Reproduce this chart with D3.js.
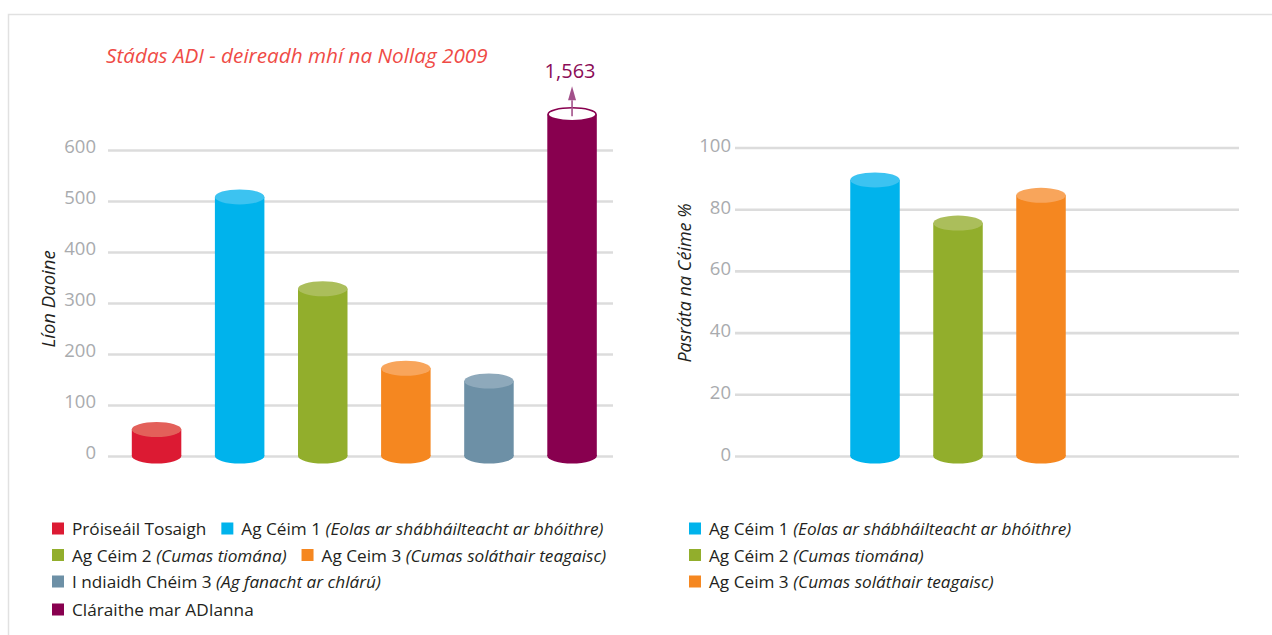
<!DOCTYPE html>
<html>
<head>
<meta charset="utf-8">
<script src="https://cdn.jsdelivr.net/npm/d3@7"></script>
<style>
  html, body { margin: 0; padding: 0; background: #fff; }
  svg { display: block; }
</style>
</head>
<body>
<svg id="chart" width="1272" height="635"></svg>
<script>
// ---------------- DATA ----------------
const titleText = "Stádas ADI - deireadh mhí na Nollag 2009";

const leftCategories = [
  "Próiseáil Tosaigh",
  "Ag Céim 1",
  "Ag Céim 2",
  "Ag Ceim 3",
  "I ndiaidh Chéim 3",
  "Cláraithe mar ADIanna"
];
const leftValues = [52, 508, 328, 172, 147, 1563];
const leftTicks = [0, 100, 200, 300, 400, 500, 600];
const leftAxisTitle = "Líon Daoine";
const leftDisplayCap = 670;  // bars above this are drawn broken
const leftColors = ["#dc1a33", "#00b3ec", "#92ae2c", "#f58720", "#6d90a6", "#88004f"];
const leftTopColors = ["#e3605a", "#3cc3f1", "#abbe5b", "#f8a55b", "#8ea9bb", "#ffffff"];
const leftLegendMain = [
  "Próiseáil Tosaigh",
  "Ag Céim 1",
  "Ag Céim 2",
  "Ag Ceim 3",
  "I ndiaidh Chéim 3",
  "Cláraithe mar ADIanna"
];
const leftLegendItalic = [
  "",
  "(Eolas ar shábháilteacht ar bhóithre)",
  "(Cumas tiomána)",
  "(Cumas soláthair teagaisc)",
  "(Ag fanacht ar chlárú)",
  ""
];
const leftLegendRows = [[0, 1], [2, 3], [4], [5]];

const rightCategories = ["Ag Céim 1", "Ag Céim 2", "Ag Ceim 3"];
const rightValues = [89.5, 75.5, 84.5];
const rightTicks = [0, 20, 40, 60, 80, 100];
const rightAxisTitle = "Pasráta na Céime %";
const rightColors = ["#00b3ec", "#92ae2c", "#f58720"];
const rightTopColors = ["#3cc3f1", "#abbe5b", "#f8a55b"];
const rightLegendMain = ["Ag Céim 1", "Ag Céim 2", "Ag Ceim 3"];
const rightLegendItalic = [
  "(Eolas ar shábháilteacht ar bhóithre)",
  "(Cumas tiomána)",
  "(Cumas soláthair teagaisc)"
];
const rightLegendRows = [[0], [1], [2]];

// ---------------- LAYOUT ----------------
const FONT = "'Open Sans', Lato, sans-serif";
const svg = d3.select("#chart");

// frame
svg.append("path")
  .attr("d", "M8.5,635 L8.5,14.5 L1272,14.5")
  .attr("fill", "none")
  .attr("stroke", "#e1e1e1")
  .attr("stroke-width", 1.5);

// title
svg.append("text")
  .attr("x", 106).attr("y", 63)
  .attr("font-family", FONT).attr("font-style", "italic")
  .attr("font-size", 20.7).attr("fill", "#ef4b46")
  .text(titleText);

const BAR_W = 49.5, RY = 7.5;

function drawPanel(opts) {
  const g = svg.append("g");
  const y = d3.scaleLinear().domain(opts.domain).range(opts.yRange);
  const x = d3.scalePoint().domain(opts.categories).range(opts.xRange).padding(0.5);

  // gridlines + tick labels through a d3 axis
  const axis = d3.axisLeft(y).tickValues(opts.ticks)
    .tickSize(-(opts.gridX1 - opts.gridX0)).tickPadding(0).tickFormat(d3.format("d"));
  const ag = g.append("g").attr("transform", `translate(${opts.gridX0},0)`).call(axis);
  ag.select(".domain").remove();
  ag.selectAll(".tick line").attr("stroke", "#dcdcdc").attr("stroke-width", 2.6);
  ag.selectAll(".tick text")
    .attr("x", -opts.labelGap).attr("dy", opts.labelDy)
    .attr("font-family", FONT).attr("font-size", 18.5).attr("fill", "#a9abae");

  // axis title
  g.append("text")
    .attr("transform", `translate(${opts.titleX},${opts.titleY}) rotate(-90)`)
    .attr("text-anchor", "middle")
    .attr("font-family", FONT).attr("font-style", "italic")
    .attr("font-size", opts.titleSize).attr("fill", "#231f20")
    .text(opts.axisTitle);

  // cylinders
  const y0 = y(0);
  opts.categories.forEach((c, i) => {
    const v = opts.values[i];
    const shown = opts.cap != null ? Math.min(v, opts.cap) : v;
    const broken = opts.cap != null && v > opts.cap;
    const cx = x(c);
    const yt = y(shown);
    const bg = g.append("g");
    bg.append("ellipse").attr("cx", cx).attr("cy", y0).attr("rx", BAR_W / 2).attr("ry", RY)
      .attr("fill", opts.colors[i]);
    bg.append("rect").attr("x", cx - BAR_W / 2).attr("y", yt)
      .attr("width", BAR_W).attr("height", y0 - yt).attr("fill", opts.colors[i]);
    bg.append("ellipse").attr("cx", cx).attr("cy", yt).attr("rx", BAR_W / 2 - (broken ? 0.8 : 0)).attr("ry", broken ? 6.5 : RY)
      .attr("fill", opts.topColors[i])
      .attr("stroke", broken ? opts.colors[i] : "none").attr("stroke-width", 1.6);
    if (broken) {
      const ac = "#a2508a";
      bg.append("line").attr("x1", cx).attr("x2", cx).attr("y1", yt + 2).attr("y2", yt - 14)
        .attr("stroke", ac).attr("stroke-width", 1.6);
      bg.append("path")
        .attr("d", `M${cx},${yt - 28} L${cx - 4},${yt - 14} L${cx + 4},${yt - 14} Z`)
        .attr("fill", ac);
      bg.append("text").attr("x", cx - 2).attr("y", yt - 36)
        .attr("text-anchor", "middle")
        .attr("font-family", FONT).attr("font-size", 20).attr("fill", "#8b0c57")
        .text(d3.format(",")(v));
    }
  });

  // legend
  const baseY = opts.legendY;
  opts.legendRows.forEach((row, r) => {
    let cx = opts.legendX;
    const by = baseY[r];
    row.forEach(i => {
      g.append("rect").attr("x", cx).attr("y", by - 12.5).attr("width", 12).attr("height", 12)
        .attr("fill", opts.colors[i]);
      const t = g.append("text").attr("x", cx + 20).attr("y", by)
        .attr("font-family", FONT).attr("font-size", 17.2).attr("fill", "#231f20");
      t.append("tspan").text(opts.legendMain[i]);
      if (opts.legendItalic[i]) {
        t.append("tspan").attr("font-style", "italic").text(" " + opts.legendItalic[i]);
      }
      cx = cx + 20 + t.node().getComputedTextLength() + 15;
    });
  });
}

drawPanel({
  categories: leftCategories, values: leftValues, ticks: leftTicks,
  domain: [0, 600], yRange: [456, 150],
  xRange: [115, 613.6], gridX0: 108, gridX1: 613,
  labelGap: 12, labelDy: 2,
  cap: leftDisplayCap,
  colors: leftColors, topColors: leftTopColors,
  axisTitle: leftAxisTitle, titleX: 55, titleY: 299, titleSize: 18.5,
  legendMain: leftLegendMain, legendItalic: leftLegendItalic, legendRows: leftLegendRows,
  legendX: 52, legendY: [535, 561.5, 588, 616]
});

drawPanel({
  categories: rightCategories, values: rightValues, ticks: rightTicks,
  domain: [0, 100], yRange: [456, 147.5],
  xRange: [833.5, 1082.5], gridX0: 735, gridX1: 1239,
  labelGap: 4, labelDy: 4,
  cap: null,
  colors: rightColors, topColors: rightTopColors,
  axisTitle: rightAxisTitle, titleX: 691, titleY: 283, titleSize: 18,
  legendMain: rightLegendMain, legendItalic: rightLegendItalic, legendRows: rightLegendRows,
  legendX: 689, legendY: [535, 561.5, 588]
});
</script>
</body>
</html>
